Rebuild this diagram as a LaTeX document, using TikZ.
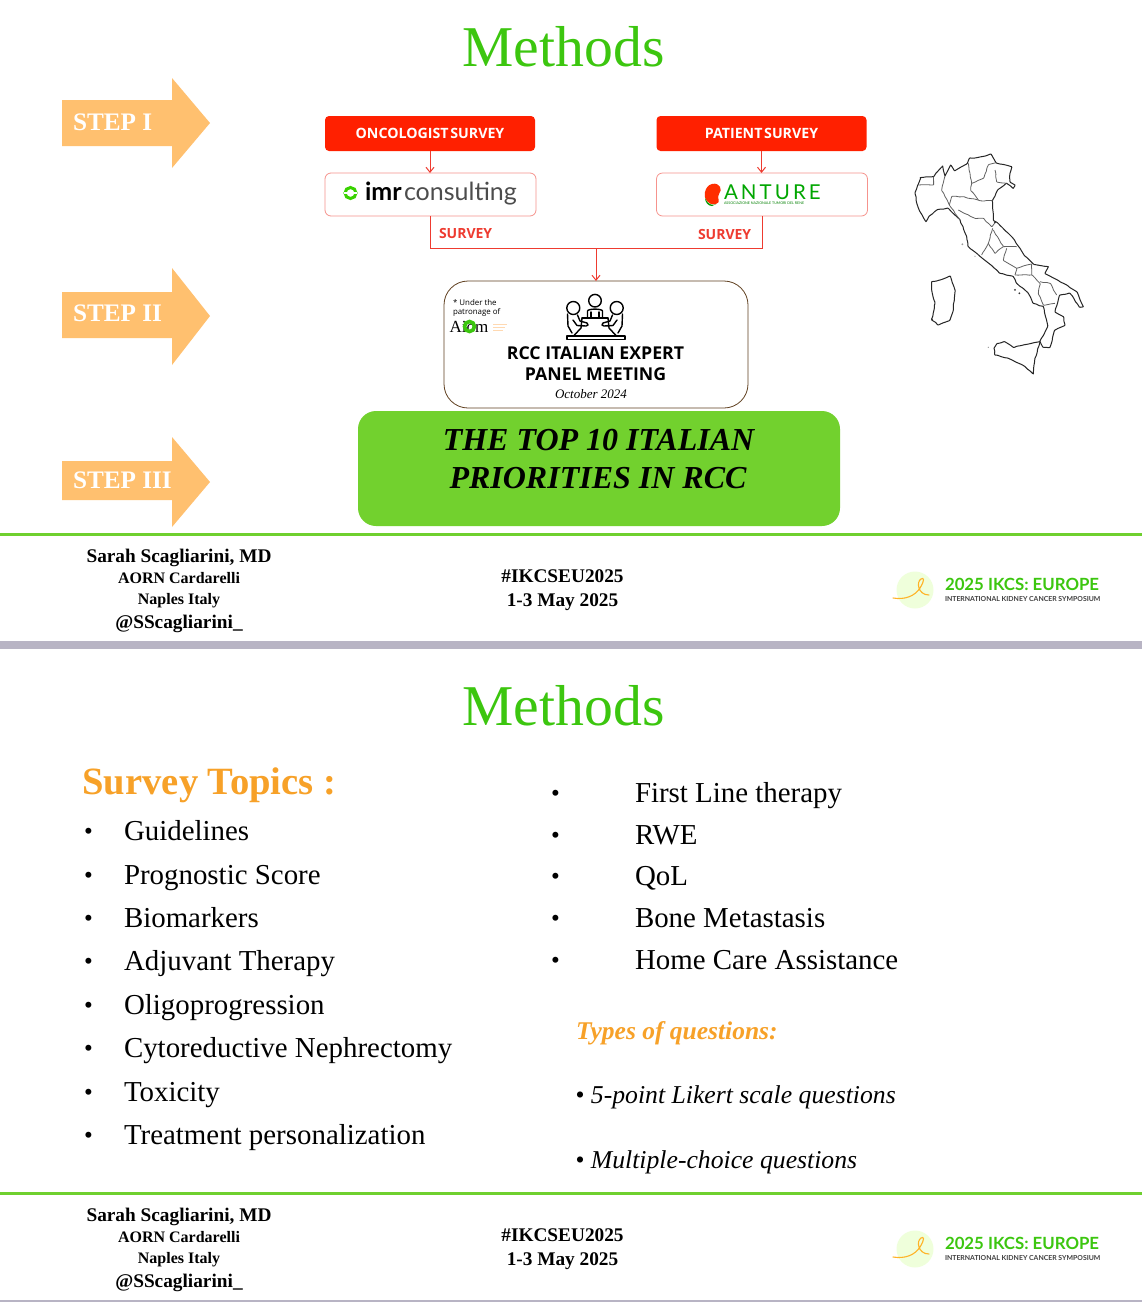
\documentclass[tikz,border=0pt]{standalone}
\usepackage{fontspec}
\setmainfont{Liberation Serif}
\newfontfamily\osf{Open Sans}
\newfontfamily\latof{Lato}
\definecolor{mgreen}{HTML}{3CC60F}
\definecolor{boxgreen}{HTML}{72D12E}
\definecolor{stepor}{HTML}{FFC06F}
\definecolor{topicor}{HTML}{F7A128}
\definecolor{svred}{HTML}{FF2000}
\definecolor{linered}{HTML}{EE3B30}
\definecolor{band}{HTML}{B8B4C4}
\definecolor{footgreen}{HTML}{6FD02F}
\newcommand{\fs}[1]{\fontsize{#1}{#1}\selectfont}
\usetikzlibrary{arrows.meta,decorations.pathmorphing}
\tikzset{
  txt/.style={inner sep=0pt,outer sep=0pt},
  title/.style={txt,font=\fs{57.7},text=mgreen,anchor=base},
  steparrow/.style={fill=stepor,draw=none},
  steplabel/.style={txt,anchor=base west,text=white,font=\fs{25.2}\bfseries},
  redbox/.style={txt,fill=svred,rounded corners=4pt,minimum width=210pt,minimum height=35pt,text=white,font=\osf\fs{14.2}\bfseries},
  whitebox/.style={txt,draw=linered!55,fill=white,line width=.8pt,rounded corners=6pt,minimum width=211pt,minimum height=43pt},
  conn/.style={draw=linered,line width=1pt},
  connarrow/.style={conn,-{Straight Barb[length=5pt,width=8pt]}},
  surveylabel/.style={txt,anchor=base west,text=linered,font=\osf\fs{14}\bfseries},
  item/.style={txt,anchor=base west,font=\fs{28.9}},
  bull/.style={txt,anchor=base west,font=\fs{25}},
  wig/.style={decorate,decoration={random steps,segment length=3.5pt,amplitude=.45pt},rounded corners=.6pt},
  italy/.style={wig,draw=black!85,line width=1pt,line join=round},
  region/.style={wig,draw=black!62,line width=.8pt,line join=round},
  ft/.style={txt,anchor=base,font=\bfseries},
}
\newcommand{\footerblock}[2]{%
  \begin{scope}[shift={(0,#2)}]
  \draw[footgreen,line width=3pt] (0,534) -- (1142,534);
  \node[ft,font=\fs{19.3}\bfseries] (#1a) at (179,562) {Sarah Scagliarini, MD};
  \node[ft,font=\fs{16}\bfseries] (#1b) at (179,583) {AORN Cardarelli};
  \node[ft,font=\fs{16}\bfseries] (#1c) at (179,604) {Naples Italy};
  \node[ft,font=\fs{19.3}\bfseries] (#1d) at (179,628) {@SScagliarini\_};
  \node[ft,font=\fs{19.3}\bfseries] (#1e) at (562.5,582) {\#IKCSEU2025};
  \node[ft,font=\fs{19.3}\bfseries] (#1f) at (562.5,606) {1-3 May 2025};
  \fill[green!45!yellow!14] (915,590) circle (18.5);
  \draw[orange!70!yellow!85,line width=1.1pt,line cap=round] (893,598) .. controls (905,600) and (915,596) .. (920,588) .. controls (925,580) and (924,577) .. (921,579) .. controls (916,582) and (918,595) .. (929,595);
  \node[txt,anchor=base west,text=mgreen,font=\latof\fs{16.8}\bfseries] (#1g) at (945,590) {2025 IKCS: EUROPE};
  \node[txt,anchor=base west,text=black!75,font=\latof\fs{6.9}\bfseries] (#1h) at (945,601) {INTERNATIONAL KIDNEY CANCER SYMPOSIUM};
  \end{scope}}
\begin{document}
\begin{tikzpicture}[x=1pt,y=-1pt]
\useasboundingbox (0,0) rectangle (1142,1302);
\fill[white] (0,0) rectangle (1142,1302);

\node[title] (t1) at (563.5,66) {Methods};
\node[title] (t2) at (563.5,725) {Methods};

% step arrows
\fill[steparrow] (62,100) -- (172,100) -- (172,78) -- (210,123) -- (172,168) -- (172,146) -- (62,146) -- cycle;
\fill[steparrow] (62,292) -- (172,292) -- (172,268) -- (210,316) -- (172,365) -- (172,338) -- (62,338) -- cycle;
\fill[steparrow] (62,461) -- (172,461) -- (172,437) -- (210,482) -- (172,527) -- (172,500) -- (62,500) -- cycle;
\node[steplabel] (s1) at (73,130) {STEP I};
\node[steplabel] (s2) at (73,321) {STEP II};
\node[steplabel] (s3) at (73,488) {STEP III};

% survey boxes
\node[redbox] (onc) at (430,133.5) {ONCOLOGIST\kern-2pt\ SURVEY};
\node[redbox] (pat) at (761.5,133.5) {PATIENT\kern-2pt\ SURVEY};
\node[whitebox] (imr) at (430.5,194.5) {};
\node[whitebox] (ant) at (762,194.5) {};
% imr logo
\draw[green!75!black!70!lime,line width=3pt] (350.5,193) circle (5.5);
\fill[white] (344,191.5) rectangle (357,194);
\node[txt,anchor=base west,font=\latof\fs{25}\bfseries] (imrA) at (365,200) {imr};
\node[txt,anchor=base west,font=\latof\fs{25},text=black!70] (imrB) at (404,200) {consulting};
% anture logo
\fill[svred!85!orange] (712,184) .. controls (720,182) and (723,190) .. (719,194) .. controls (716,198) and (722,202) .. (716,204) .. controls (708,206) and (703,198) .. (705,192) .. controls (706,188) and (708,185) .. (712,184) -- cycle;
\fill[green!60!black] (705,198) .. controls (708,205) and (713,206) .. (716,204) -- (712,206) .. controls (708,206) and (705,202) .. (705,198) -- cycle;
\node[txt,anchor=base west,text=green!65!black,font=\latof\fs{20.5}\addfontfeature{LetterSpace=15}] (antA) at (724,199) {ANTURE};
\node[txt,anchor=base west,text=green!50!black,font=\latof\fs{3.6}] (antB) at (724,204.5) {ASSOCIAZIONE NAZIONALE TUMORI DEL RENE};

\coordinate (merge) at (596,248);
\draw[connarrow] (onc.south) -- (onc.south |- imr.north);
\draw[connarrow] (pat.south) -- (pat.south |- ant.north);
\draw[conn] (imr.south) |- (merge);
\draw[conn] (ant.south) |- (merge);
\node[surveylabel] (sv1) at (439,238) {SURVEY};
\node[surveylabel] (sv2) at (698,239) {SURVEY};

% panel
\node[txt,draw=black!50!brown,fill=white,line width=.8pt,rounded corners=24pt,minimum width=304pt,minimum height=127pt] (panel) at (596,344.5) {};
\draw[connarrow] (merge) -- (panel.north);
\node[txt,anchor=base west,font=\osf\fs{7.9}] (un1) at (453,305) {* Under the};
\node[txt,anchor=base west,font=\osf\fs{7.9}] (un2) at (453,314) {patronage of};
\node[txt,anchor=base,font=\fs{17}] (aiom) at (469,332) {Aiom};
\draw[mgreen,line width=3.6pt] (469.5,326.5) circle (5);
\draw[orange!30,line width=.4pt] (493,324) -- (507,324) (493,327) -- (505,327) (493,330) -- (503,330);
% meeting icon
\begin{scope}[line width=1.4pt,line cap=round,line join=round]
  \draw (595,300.7) circle (6.3);
  \draw (573.3,308) circle (6.5);
  \draw (616.7,308) circle (6.5);
  \draw (587.5,318) -- (587.5,311) .. controls (588,308.5) and (602,308.5) .. (602.5,311) -- (602.5,318);
  \draw (591,317) -- (591,312) (599,317) -- (599,312);
  \draw (582,318) -- (608,318);
  \draw (567.5,314) -- (568,326) -- (572,333);
  \draw (577.5,315) -- (580,321) -- (587,323) .. controls (589,324.5) and (588,326) .. (586,326) -- (577,325.5) -- (573,320);
  \draw (622.5,314) -- (622,326) -- (618,333);
  \draw (612.5,315) -- (610,321) -- (603,323) .. controls (601,324.5) and (602,326) .. (604,326) -- (613,325.5) -- (617,320);
  \draw (582,318) -- (581,328) -- (574,335.5);
  \draw (608,318) -- (609,328) -- (616,335.5);
  \draw (574,335.5) -- (616,335.5);
  \draw (567,336) -- (625,336) -- (625,339.5) -- (567,339.5) -- cycle;
\end{scope}
\node[txt,anchor=base,font=\osf\fs{17.7}\bfseries] (pm1) at (595.5,359.5) {RCC ITALIAN EXPERT};
\node[txt,anchor=base,font=\osf\fs{17.7}\bfseries] (pm2) at (595.5,380) {PANEL MEETING};
\node[txt,anchor=base,font=\fs{13}\itshape] (pm3) at (591,398) {October 2024};

% top10
\node[txt,fill=boxgreen,rounded corners=18pt,minimum width=482pt,minimum height=115pt] (top) at (599,468.5) {};
\node[txt,anchor=base,font=\fs{32}\bfseries\itshape] (top1) at (598.5,450) {THE TOP 10 ITALIAN};
\node[txt,anchor=base,font=\fs{32}\bfseries\itshape] (top2) at (598,488) {PRIORITIES IN RCC};

% Italy
\begin{scope}[shift={(900,140)},x=.3333pt,y=-.3333pt]
  \draw[italy] (58,113) -- (100,110) -- (115,92) -- (128,78) -- (135,108) -- (152,75) -- (163,92) -- (185,80) -- (200,72) -- (208,55) -- (245,50) -- (272,42) -- (288,68) -- (335,80) -- (330,100) -- (330,125) -- (345,135) -- (340,145) -- (320,130) -- (295,148) -- (278,180) -- (280,240) -- (292,248) -- (335,290) -- (360,325) -- (372,345) -- (400,372) -- (445,380) -- (435,400) -- (490,430) -- (530,455) -- (550,500) -- (540,502) -- (510,460) -- (480,465) -- (465,515) -- (490,530) -- (495,555) -- (465,570) -- (450,622) -- (430,622) -- (420,605) -- (443,560) -- (430,500) -- (400,490) -- (385,460) -- (350,430) -- (340,410) -- (300,400) -- (260,365) -- (230,340) -- (205,320) -- (200,290) -- (180,240) -- (145,205) -- (115,208) -- (88,228) -- (78,245) -- (60,215) -- (52,195) -- (45,160) -- (58,125) -- cycle;
  \draw[italy] (282,625) -- (290,612) -- (312,605) -- (340,622) -- (420,605) -- (405,655) -- (400,702) -- (375,680) -- (325,655) -- (285,645) -- cycle;
  \draw[italy] (95,425) -- (120,420) -- (150,408) -- (165,450) -- (160,510) -- (150,540) -- (115,555) -- (95,540) -- (105,490) -- (95,450) -- cycle;
  \draw[region] (55,135) -- (100,135) -- (100,110);
  \draw[region] (135,108) -- (125,150) -- (148,195);
  \draw[region] (148,195) -- (180,240);
  \draw[region] (148,195) -- (155,170) -- (190,170) -- (240,182) -- (278,182);
  \draw[region] (205,70) -- (210,100) -- (215,130) -- (212,150) -- (235,180);
  \draw[region] (215,130) -- (250,115) -- (265,75) -- (288,68);
  \draw[region] (285,90) -- (290,125) -- (320,130);
  \draw[region] (175,210) -- (225,235) -- (250,235) -- (275,260) -- (285,248);
  \draw[region] (278,265) -- (265,310) -- (245,345);
  \draw[region] (265,310) -- (285,340) -- (310,320) -- (280,270);
  \draw[region] (310,320) -- (350,320);
  \draw[region] (320,325) -- (310,360) -- (350,385) -- (345,405);
  \draw[region] (350,385) -- (395,372);
  \draw[region] (345,405) -- (395,405) -- (420,430) -- (415,460) -- (430,495) -- (465,490);
  \draw[region] (395,372) -- (395,405);
  \draw[region] (420,425) -- (450,430) -- (470,465);
  \fill[black!80] (345,450) circle (3) (358,460) circle (3) (96,538) circle (3) (285,247) circle (3);
  \fill[black!40] (187,313) circle (3) (225,349) circle (2) (265,622) circle (2);
\end{scope}

\footerblock{fa}{0}
\fill[band] (0,641) rectangle (1142,649);
\footerblock{fb}{659}
\fill[band] (0,1299.5) rectangle (1142,1302);

% topics
\node[txt,anchor=base west,text=topicor,font=\fs{38.6}\bfseries] (stt) at (82.5,794) {Survey Topics :};
\foreach \n/\yy/\tx in {l1/840/Guidelines,l2/884/Prognostic Score,l3/927/Biomarkers,l4/970/Adjuvant Therapy,l5/1014/Oligoprogression,l6/1057/Cytoreductive Nephrectomy,l7/1101/Toxicity,l8/1144/Treatment personalization}{
  \node[bull] (b\n) at (84,\yy-1) {\textbullet};
  \node[item] (\n) at (124,\yy) {\tx};
}
\foreach \n/\yy/\tx in {r1/802/First Line therapy,r2/844/RWE,r3/885/QoL,r4/927/Bone Metastasis,r5/969/Home Care Assistance}{
  \node[bull] (b\n) at (551,\yy-1) {\textbullet};
  \node[item] (\n) at (635,\yy) {\tx};
}
\node[txt,anchor=base west,text=topicor,font=\fs{25.5}\bfseries\itshape] (tq) at (576,1039) {Types of questions:};
\node[txt,anchor=base west,font=\fs{25.7}\itshape] (q1) at (575.5,1103) {{\upshape\textbullet} 5-point Likert scale questions};
\node[txt,anchor=base west,font=\fs{25.7}\itshape] (q2) at (575.5,1168) {{\upshape\textbullet} Multiple-choice questions};
\end{tikzpicture}
\end{document}
